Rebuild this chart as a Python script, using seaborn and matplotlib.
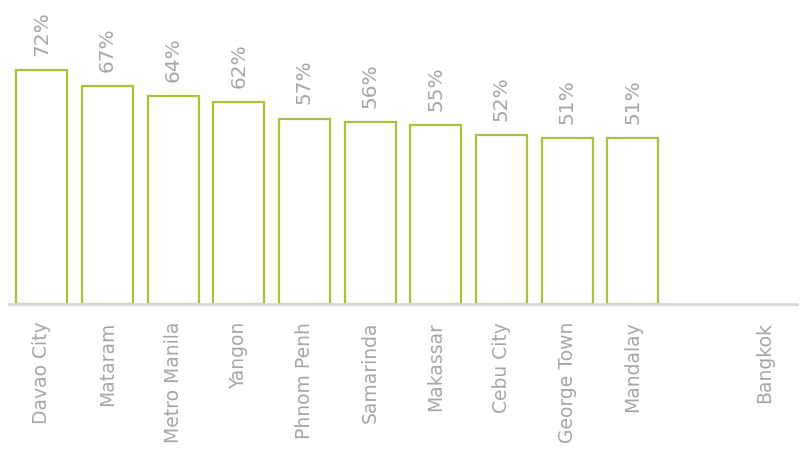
import matplotlib
matplotlib.use("Agg")
import matplotlib.pyplot as plt
import seaborn as sns
import pandas as pd
import numpy as np

cities = ["Davao City", "Mataram", "Metro Manila", "Yangon", "Phnom Penh",
          "Samarinda", "Makassar", "Cebu City", "George Town", "Mandalay",
          " ", "Bangkok"]
shares = [72, 67, 64, 62, 57, 56, 55, 52, 51, 51, np.nan, np.nan]

GREEN = "#a9c23a"
GREY_TEXT = "#a6a6a6"
AXIS_GREY = "#d9d9d9"

sns.set_theme(style="white")
plt.rcParams["font.family"] = ["DejaVu Sans"]

df = pd.DataFrame({"city": cities, "share": shares})

fig = plt.figure(figsize=(8.06, 4.52), dpi=100)
ax = fig.add_axes([9 / 806, 1 - 305 / 452, 788 / 806, 305 / 452])

sns.barplot(data=df, x="city", y="share", order=cities, color="white",
            edgecolor=GREEN, linewidth=1.6, width=0.78, saturation=1,
            errorbar=None, ax=ax)

for i, v in enumerate(shares):
    if np.isnan(v):
        continue
    ax.annotate(f"{v:.0f}%", (i, v), xytext=(0, 11), textcoords="offset points",
                rotation=90, ha="center", va="bottom", color=GREY_TEXT,
                fontsize=14.5)

ax.set_xlim(-0.5, len(cities) - 0.5)
ax.set_ylim(0, 305 / 3.25)
ax.set_xlabel("")
ax.set_ylabel("")
ax.set_yticks([])
ax.tick_params(axis="x", length=0, pad=12, labelsize=13.5, labelcolor=GREY_TEXT)
for lbl in ax.get_xticklabels():
    lbl.set_rotation(90)
    lbl.set_va("top")
    lbl.set_ha("center")
for side in ["top", "right", "left"]:
    ax.spines[side].set_visible(False)
ax.spines["bottom"].set_color(AXIS_GREY)
ax.spines["bottom"].set_linewidth(2)

fig.savefig("out.png", dpi=100)
